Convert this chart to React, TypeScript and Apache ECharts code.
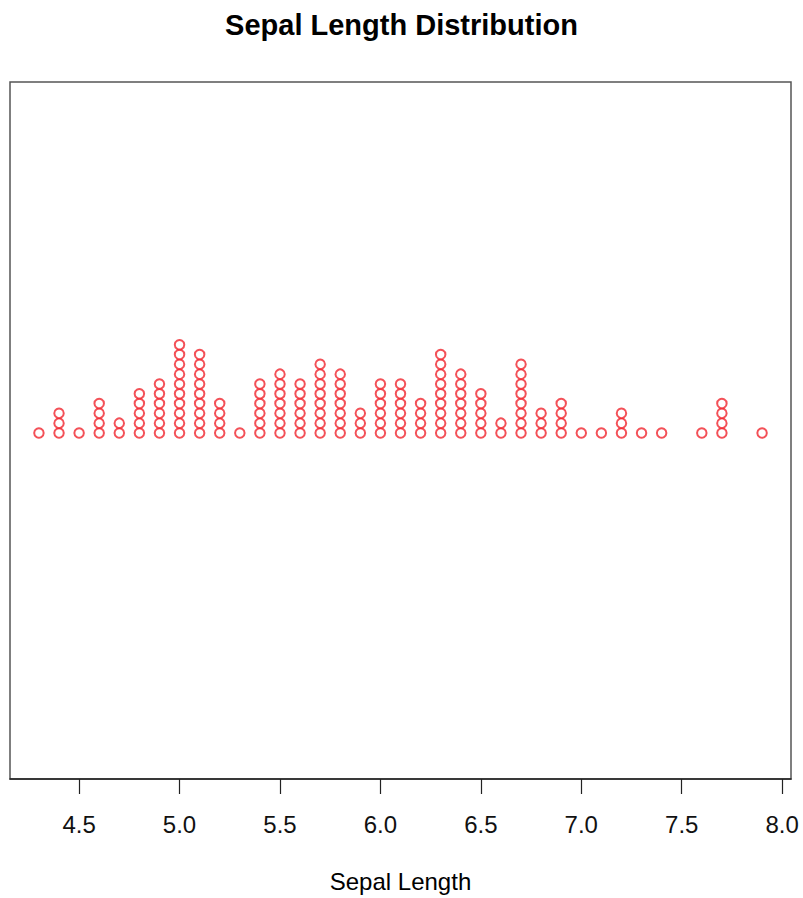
import React, { useEffect, useRef } from "react";
import * as echarts from "echarts";

const sepalValues: number[] = [
  4.3, 4.4, 4.5, 4.6, 4.7, 4.8, 4.9, 5.0, 5.1, 5.2, 5.3, 5.4, 5.5, 5.6, 5.7, 5.8, 5.9,
  6.0, 6.1, 6.2, 6.3, 6.4, 6.5, 6.6, 6.7, 6.8, 6.9, 7.0, 7.1, 7.2, 7.3, 7.4, 7.6, 7.7, 7.9,
];
const sepalCounts: number[] = [
  1, 3, 1, 4, 2, 5, 6, 10, 9, 4, 1, 6, 7, 6, 8, 7, 3,
  6, 6, 4, 9, 7, 5, 2, 8, 3, 4, 1, 1, 3, 1, 1, 1, 4, 1,
];
const tickValues: number[] = [4.5, 5.0, 5.5, 6.0, 6.5, 7.0, 7.5, 8.0];

const titleText = "Sepal Length Distribution";
const xAxisName = "Sepal Length";

const FONT = "'Liberation Sans', Arial, Helvetica, sans-serif";

export default function App() {
  const ref = useRef<HTMLDivElement>(null);

  useEffect(() => {
    document.body.style.margin = "0";
    if (!ref.current) return;
    const chart = echarts.init(ref.current, undefined, { renderer: "svg" });

    const points: number[][] = [];
    sepalValues.forEach((v, i) => {
      for (let k = 0; k < sepalCounts[i]; k++) points.push([v, k]);
    });

    chart.setOption({
      animation: false,
      backgroundColor: "#ffffff",
      title: {
        text: titleText,
        left: "center",
        top: 10,
        padding: 0,
        textStyle: { fontFamily: FONT, fontWeight: "bold", fontSize: 29, color: "#000" },
      },
      grid: {
        left: 10,
        right: 12,
        top: 82,
        bottom: 119,
        show: true,
        borderColor: "#555",
        borderWidth: 1.5,
        backgroundColor: "transparent",
      },
      xAxis: {
        type: "value",
        position: "bottom",
        min: 4.156,
        max: 8.044,
        name: xAxisName,
        nameLocation: "middle",
        nameGap: 90,
        nameTextStyle: { fontFamily: FONT, fontSize: 24, color: "#000" },
        axisLine: { show: true, onZero: false, lineStyle: { color: "#222", width: 1.5 } },
        axisTick: {
          show: true,
          length: 15,
          customValues: tickValues,
          lineStyle: { color: "#222", width: 1.2 },
        },
        axisLabel: {
          show: true,
          margin: 33,
          customValues: tickValues,
          fontFamily: FONT,
          fontSize: 24,
          color: "#111",
          formatter: (v: number) => v.toFixed(1),
        },
        splitLine: { show: false },
      },
      yAxis: {
        type: "value",
        min: -35.3,
        max: 35.8,
        show: false,
        splitLine: { show: false },
      },
      series: [
        {
          type: "scatter",
          data: points,
          symbol: "emptyCircle",
          symbolSize: 9.5,
          itemStyle: { color: "#f0262e", borderWidth: 0.9 },
        },
      ],
    });

    return () => chart.dispose();
  }, []);

  return <div ref={ref} style={{ width: 803, height: 898 }} />;
}
